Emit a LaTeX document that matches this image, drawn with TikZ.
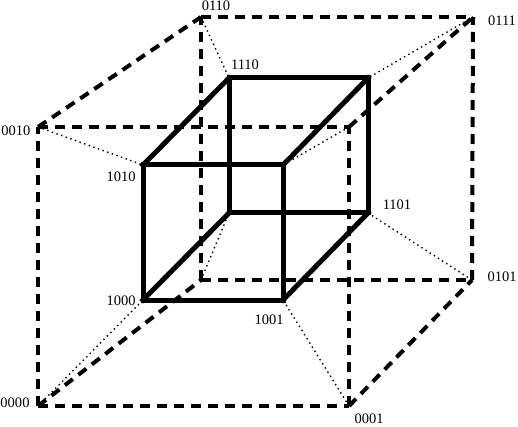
\documentclass[tikz,border=0pt]{standalone}
\usepackage{fontspec}
\setmainfont{Liberation Serif}
\begin{document}
\begin{tikzpicture}[x=1pt,y=-1pt,
  outer/.style={line width=4pt,dash pattern=on 10pt off 7pt},
  inner/.style={line width=5pt,line cap=rect,line join=miter},
  link/.style={line width=1.4pt,dash pattern=on 1.4pt off 3.5pt},
  lab/.style={inner sep=0pt,font=\fontsize{14.5}{16}\selectfont}]
\useasboundingbox (0,0) rectangle (518,427);
% outer cube
\coordinate (o0000) at (38,406);
\coordinate (o0001) at (349,406);
\coordinate (o0010) at (38,127);
\coordinate (o0011) at (349,127);
\coordinate (o0100) at (201,280);
\coordinate (o0101) at (472,280);
\coordinate (o0110) at (201,17);
\coordinate (o0111) at (473,17);
% inner cube
\coordinate (i1000) at (143,300);
\coordinate (i1001) at (283,300);
\coordinate (i1010) at (143,165);
\coordinate (i1011) at (283,165);
\coordinate (i1100) at (229,213);
\coordinate (i1101) at (368,213);
\coordinate (i1110) at (229,78);
\coordinate (i1111) at (368,78);
% dotted links
\foreach \a/\b in {0000/1000,0001/1001,0010/1010,0011/1011,0100/1100,0101/1101,0110/1110,0111/1111}
  \draw[link] (o\a) -- (i\b);
% outer dashed edges
\draw[outer] (o0000) -- (o0001);
\draw[outer] (o0001) -- (o0011);
\draw[outer] (o0010) -- (o0011);
\draw[outer] (o0000) -- (o0010);
\draw[outer] (o0100) -- (o0101);
\draw[outer] (o0101) -- (o0111);
\draw[outer] (o0110) -- (o0111);
\draw[outer] (o0100) -- (o0110);
\draw[outer] (o0000) -- (o0100);
\draw[outer] (o0001) -- (o0101);
\draw[outer] (o0010) -- (o0110);
\draw[outer] (o0011) -- (o0111);
% inner solid edges
\draw[inner] (i1000) -- (i1001) -- (i1011) -- (i1010) -- cycle;
\draw[inner] (i1100) -- (i1101) -- (i1111) -- (i1110) -- cycle;
\draw[inner] (i1000) -- (i1100);
\draw[inner] (i1001) -- (i1101);
\draw[inner] (i1010) -- (i1110);
\draw[inner] (i1011) -- (i1111);
% labels
\node[lab] (l0110) at (216,6) {0110};
\node[lab] (l1110) at (245,65) {1110};
\node[lab] (l0010) at (16,131) {0010};
\node[lab] (l1010) at (121,177) {1010};
\node[lab] (l0111) at (502,21) {0111};
\node[lab] (l1101) at (397,205) {1101};
\node[lab] (l0101) at (502,277) {0101};
\node[lab] (l1001) at (269,320) {1001};
\node[lab] (l0001) at (369,419) {0001};
\node[lab] (l1000) at (121,301) {1000};
\node[lab] (l0000) at (15,403) {0000};
\end{tikzpicture}
\end{document}
